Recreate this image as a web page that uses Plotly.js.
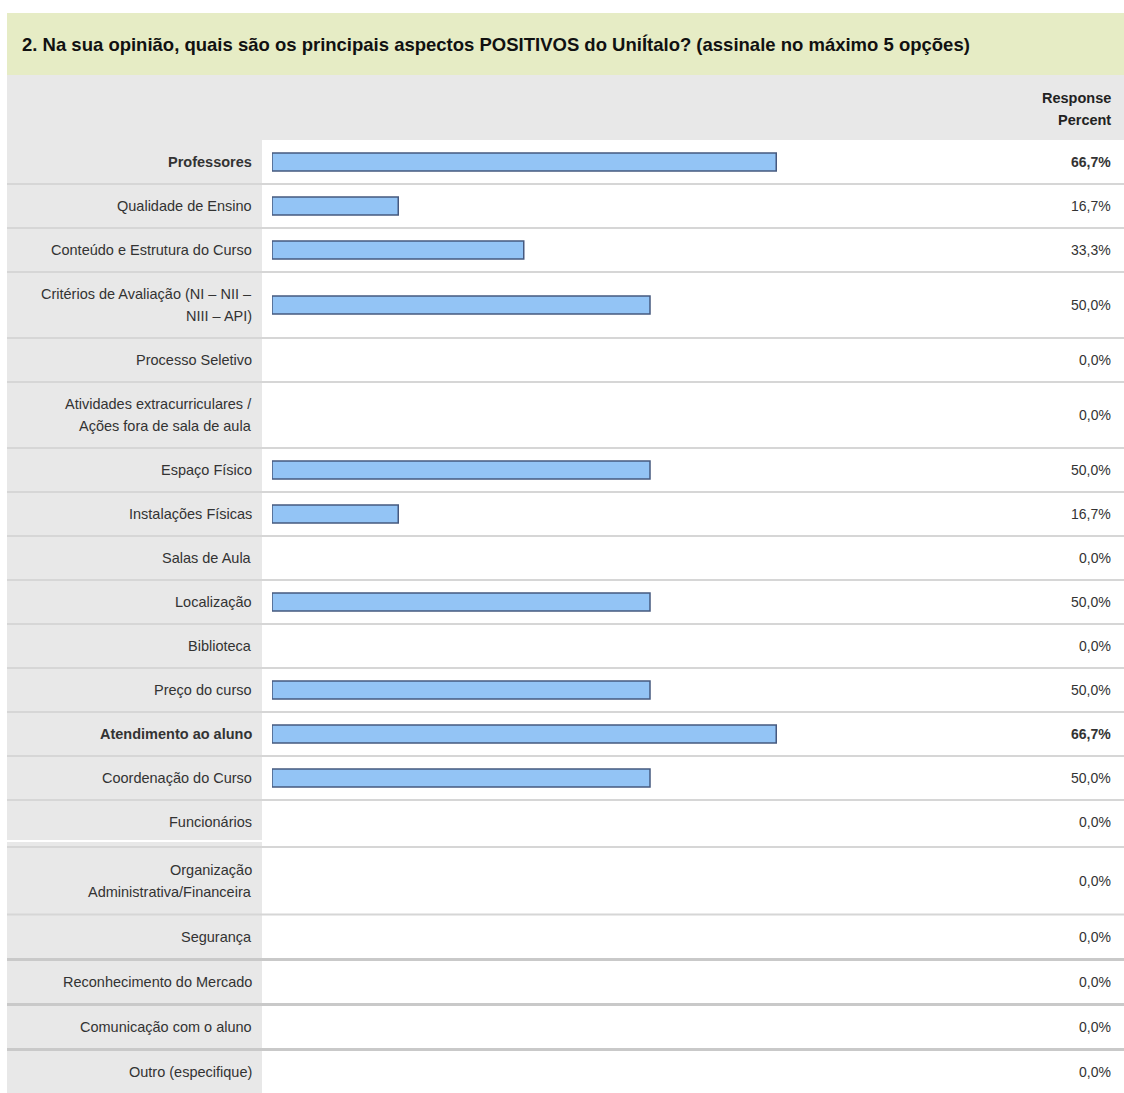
<!DOCTYPE html>
<html>
<head>
<meta charset="utf-8">
<script src="https://cdn.plot.ly/plotly-3.0.1.min.js"></script>
<style>html,body{margin:0;padding:0;background:#fff;}#chart{width:1124px;height:1093px;}</style>
</head>
<body>
<div id="chart"></div>
<script>
const titleText = "2. Na sua opinião, quais são os principais aspectos POSITIVOS do UniÍtalo? (assinale no máximo 5 opções)";
const headerLines = ["Response", "Percent"];
const categories = [
  "Professores",
  "Qualidade de Ensino",
  "Conteúdo e Estrutura do Curso",
  "Critérios de Avaliação (NI – NII –<br>NIII – API)",
  "Processo Seletivo",
  "Atividades extracurriculares /<br>Ações fora de sala de aula",
  "Espaço Físico",
  "Instalações Físicas",
  "Salas de Aula",
  "Localização",
  "Biblioteca",
  "Preço do curso",
  "Atendimento ao aluno",
  "Coordenação do Curso",
  "Funcionários",
  "Organização<br>Administrativa/Financeira",
  "Segurança",
  "Reconhecimento do Mercado",
  "Comunicação com o aluno",
  "Outro (especifique)"
];
const responsePercent = [66.7, 16.7, 33.3, 50.0, 0.0, 0.0, 50.0, 16.7, 0.0, 50.0, 0.0, 50.0, 66.7, 50.0, 0.0, 0.0, 0.0, 0.0, 0.0, 0.0];

// ---- layout geometry (pixels) ----
const W = 1124, H = 1093;
const tableLeft = 7, labelColRight = 262;
const titleTop = 13, titleBottom = 75, headerBottom = 140;
const pageBreakAfter = 14;     // the table continues on a new page after this row
const rowHFirst = 44, rowHSecond = 45, breakGap = 3;
const lineGap = 22;
const barThickness = 18;
const barLeftPx = 272, barFullPx = 1028;
const px = v => v / W;

const maxVal = Math.max(...responsePercent);
const lineCounts = categories.map(c => c.split("<br>").length);
const rowCenters = [], rowBottoms = [];
let yCursor = headerBottom;
let breakY = null;
lineCounts.forEach((n, i) => {
  const base = i <= pageBreakAfter ? rowHFirst : rowHSecond;
  const h = n > 1 ? base * 1.5 : base;
  rowCenters.push(yCursor + h / 2);
  yCursor += h;
  if (i === pageBreakAfter) { breakY = yCursor - 3; yCursor += breakGap; }
  rowBottoms.push(yCursor);
});

const shapes = [];
shapes.push({type:'rect', xref:'paper', yref:'y', x0:px(tableLeft), x1:1, y0:titleTop, y1:titleBottom, fillcolor:'#e6ecc5', line:{width:0}, layer:'below'});
shapes.push({type:'rect', xref:'paper', yref:'y', x0:px(tableLeft), x1:1, y0:titleBottom, y1:headerBottom, fillcolor:'#e8e8e8', line:{width:0}, layer:'below'});
shapes.push({type:'rect', xref:'paper', yref:'y', x0:px(tableLeft), x1:px(labelColRight), y0:headerBottom, y1:H, fillcolor:'#e8e8e8', line:{width:0}, layer:'below'});
// page-break white seam in the label column
shapes.push({type:'line', xref:'paper', yref:'y', x0:px(tableLeft), x1:px(labelColRight), y0:breakY, y1:breakY, line:{color:'#ffffff', width:2}, layer:'below'});
rowBottoms.slice(0, -1).forEach((b, i) => {
  const heavy = i >= 16;
  shapes.push({type:'line', xref:'paper', yref:'y', x0:px(tableLeft), x1:1, y0:b, y1:b, line:{color: heavy ? '#c9c9c9' : '#d6d6d6', width: heavy ? 3 : 2}, layer:'below'});
});

const font = (size, color) => ({family:'Liberation Sans, Arial, sans-serif', size:size, color:color});
const annotations = [];
headerLines.forEach((t, i) => {
  annotations.push({text:'<b>' + t + '</b>', xref:'paper', yref:'y', x:px(1113), y:98 + i * lineGap, xanchor:'right', yanchor:'middle', showarrow:false, font:font(14.5, '#222')});
});
categories.forEach((c, i) => {
  const lines = c.split("<br>");
  const bold = responsePercent[i] === maxVal;
  lines.forEach((ln, k) => {
    const y = rowCenters[i] + (k - (lines.length - 1) / 2) * lineGap;
    annotations.push({text: bold ? '<b>' + ln + '</b>' : ln, xref:'paper', yref:'y', x:px(254), y:y, xanchor:'right', yanchor:'middle', showarrow:false, font:font(14.5, '#333')});
  });
  const pct = responsePercent[i].toFixed(1).replace('.', ',') + '%';
  annotations.push({text: bold ? '<b>' + pct + '</b>' : pct, xref:'paper', yref:'y', x:px(1113), y:rowCenters[i], xanchor:'right', yanchor:'middle', showarrow:false, font:font(14, '#333')});
});

const trace = {
  type:'bar', orientation:'h',
  x: responsePercent,
  y: rowCenters,
  width: barThickness,
  marker:{color:'#93c4f5', line:{color:'#46597f', width: responsePercent.map(v => v > 0 ? 1.5 : 0)}},
  hoverinfo:'skip'
};

const layout = {
  width: W, height: H,
  margin:{l:0, r:0, t:0, b:0, pad:0},
  paper_bgcolor:'#ffffff', plot_bgcolor:'rgba(0,0,0,0)',
  showlegend:false,
  title:{text: titleText, xref:'paper', yref:'paper', x:px(22), xanchor:'left', y:1 - 45 / H, yanchor:'middle', font:{family:'Liberation Sans, Arial, sans-serif', size:18.5, weight:'bold', color:'#111'}},
  xaxis:{domain:[px(barLeftPx), px(barFullPx)], range:[0, 100], visible:false, fixedrange:true},
  yaxis:{domain:[0, 1], range:[H, 0], visible:false, fixedrange:true},
  shapes: shapes,
  annotations: annotations
};

Plotly.newPlot('chart', [trace], layout, {displayModeBar:false, staticPlot:true});
</script>
</body>
</html>
